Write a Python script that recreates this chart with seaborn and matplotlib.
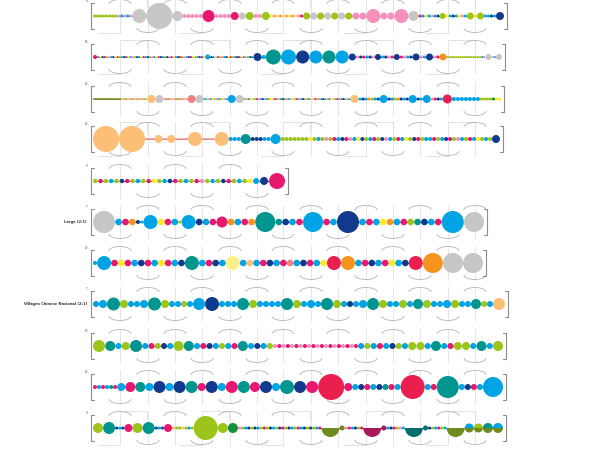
import matplotlib
matplotlib.use("Agg")
import matplotlib.pyplot as plt
from matplotlib.patches import Circle, Wedge, Arc
import seaborn as sns

sns.set_theme(style="white")
plt.rcParams['font.family'] = ['DejaVu Sans']

# colour codes used in the row specs
colors = {
    'g': '#9dc41a', 's': '#c6c6c6', 'p': '#f590bd', 'm': '#e8176f',
    'c': '#00a4e4', 'n': '#123a8c', 't': '#00958f', 'o': '#f7941d',
    'l': '#fdbf76', 'y': '#fde92b', 'r': '#ea1f4e', 'f': '#f27f7f',
    'd': '#12913f', 'v': '#6e8b1e', 'w': '#a6195a', 'k': '#00706e',
    'h': '#fbf08a',
}

# each token: colour letters + radius (one dot per letter), "*n" repeats,
# "a/b r" = top half a, bottom half b ("_" = no top half)
row01 = "g1.5*8 pcpcp1.5 s7 s13 s5 p2*5 m6 p2*4 m4 s3.5 g4 p2*2 g4 ypypypypypm1.5 g3.5 s3.5 g3.5 s3.5 g3.5 s3.5 g3.5 p3.5 p3.5 p7 p3.5 p3.5 p7 s5 mcycpcn1.5 g3 ycncypc1.5 g3.5 y1.5 g3.5 ccnc1.5 n4"
row02 = "m2 cynmgpcnym1 gcnmycpgnc1 ymcngpcymn1 cgnpmycnmg1 pcnmygcnmy1 c2.5 ncymgpcnym1 gcnmycpgnc1 n4 c2 t7.5 c7.5 n6.5 c6.5 t6.5 c6.5 n3.5 pnmcnp1.5 n3 cnpm1.5 n3 mpcn1.5 n3.5 pc1.5 n3.5 pm1.5 o3.5 gggggggggggggggg1 cp1 s3 pc1 s3"
row03 = "v1*14 lpglpglpglpgl1 l4 s4 pfgplpgfpglp1 f4 s4 cgpcygpcglpc1 c4 s4 gpcylgmpcn1 pcgylmgpcn1 gpclygmpcn1 pgcylmpgcn1 gpcylgmpcn1 gpc1 l4 cncogcn1.5 c4 ncgoncn1.5 c4 nc1.5 c4 pmnc1.5 r4.5 c2*7 g1.5*4 d1.5 y1.5*2"
row04 = "l13 l13 ffffff0.8 l4 fff0.8 l4 ffffffff0.8 l7 ffffffff0.8 l7 c2*3 t5 n2*3 c2*2 c5 g2*3 g2*3 gygcgpg2 mcnmpcyn2 gcmgnpcg2 mcygnmgc2 cmgcnmgp2 cgmcy2 gcg2 n4"
row05 = "gmgcgnmgcgmygcnmgcgmpgcgnmgcgy2.2 c3 n4 m8"
row06 = "s11 cmo3.3 n2 c1.5 c7 ymc3.3 g1.5 c7 ncm3.3 m5.5 ocmo3.3 t10 tncm3.3 c10 mc3.3 n11 cmcyocmgtncm3.3 c11 s10"
row07 = "c2 c7 mymcnmcymcn3.3 t7 cmnc3.3 h7 clcmncmfcnmcy3.3 r7 o7 cmncmycn3.3 r7 o10 s10 s10"
row08 = "c3 c4 t6.5 g4 c3 c3 c4 t6.5 g4 c3 c3 g3 c3 c6 n7 c3 c3 c3 t6 g4 c3 c3 c3 c3 t6 g4 c3 c4 c3 t6 g4 c3 n3 c3 c4 t6 g4 c3 c3 g4 c3 t5 g4 c3 c3 c4 g4 c3 c3 t5 g3 c3 l6"
row09 = "g6 t5 c3 g4 t6 c3 m3 g3 n3 c3 g5 t5 c3 m3 n3 c3 g3 c3 m3 t5 c3 n3 c3 g3 pmpmpmpmpmpmpmpmpmpm2 c3 g3 c3 m3 c3 n3 g3 c3 g4 g4 c3 t5 c3 m3 g4 g4 c3 t5 c3 g5"
row10 = "mcmctm2 c4 m5 t5 c4 n6 c4 n6 t6 m4 n6 c4 m6 t6 m5 n6 c4 t7 n6 m6 r13 m4 cnmcntmc3 r12 cm3 t11 cnmc3 c10"
row11 = "g5 t6 ncn1.5 m4 g5 t6 ncn1.5 m4 lgglgcg1.5 g12 g5 d5 pgcngncgmgncgnmgncgmcngngcm1.5 _/v9 v2.5 pmcngm1.5 _/w9 w2.5 cnmgpc1.5 _/k9 k2.5 ngcmgc1.5 _/v9 c/v4.5 g/v4.5 t/v5 c/v5"

rows = [row01, row02, row03, row04, row05, row06, row07, row08, row09, row10, row11]
row_y = [16, 57, 99, 139, 181, 222, 263, 304, 346, 387, 428]
row_end = [504, 502, 501, 500, 285, 484, 483, 505, 503, 503, 503]
row_tags = ["8", "10", "10", "10", "9", "7", "10", "7", "10", "10", "8"]
side_labels = {5: "Large (2:1)", 7: "Villages Chinese Nacional (2:1)"}

row_start = 93
guide_x = [120, 148, 175, 202, 230, 257, 283, 311, 338, 366, 393, 420, 448, 475]
step_rows = [0, 1, 3, 10]


def parse(spec):
    items = []
    for tok in spec.split():
        rep = 1
        if '*' in tok:
            tok, rep = tok.split('*')
            rep = int(rep)
        if '/' in tok:
            top, rest = tok.split('/')
            items += [(top, rest[0], float(rest[1:]))] * rep
        else:
            letters = ''.join(ch for ch in tok if ch.isalpha())
            r = float(tok[len(letters):])
            for _ in range(rep):
                items += [(ch, ch, r) for ch in letters]
    return items


fig = plt.figure(figsize=(6.15, 4.5), dpi=100)
ax = fig.add_axes([0, 0, 1, 1])
ax.set_xlim(0, 615)
ax.set_ylim(450, 0)
ax.set_aspect('equal')
ax.axis('off')

grid_c = '#dcdcdc'
arc_c = '#b3b3b3'

for i, (spec, y, end) in enumerate(zip(rows, row_y, row_end)):
    items = parse(spec)
    total = sum(2 * r for _, _, r in items)
    gap = (end - row_start - total) / (len(items) - 1)
    xs = []
    x = row_start
    for _, _, r in items:
        xs.append(x + r)
        x += 2 * r + gap

    # guide lines, arcs and dashed steps
    for k, gx in enumerate(guide_x):
        if gx > end - 8:
            break
        ax.plot([gx, gx], [y - 17, y + 17], color=grid_c, lw=0.5, zorder=0)
        if (k + i) % 2 == 0:
            ax.add_patch(Arc((gx, y - 12), 22, 9, theta1=180, theta2=360,
                             color=arc_c, lw=0.6, zorder=0))
        else:
            ax.add_patch(Arc((gx, y + 12), 22, 9, theta1=0, theta2=180,
                             color=arc_c, lw=0.6, zorder=0))
        if i in step_rows and k % 3 == 0:
            ax.plot([gx - 22, gx], [y + 17, y + 17], color='#c4c4c4', lw=0.5,
                    ls=(0, (2, 1)), zorder=0)
            ax.plot([gx, gx + 27, gx + 27], [y - 17, y - 17, y - 8], color='#c4c4c4',
                    lw=0.5, ls=(0, (2, 1)), zorder=0)

    # connecting line
    for j in range(len(items) - 1):
        ax.plot([xs[j], xs[j + 1]], [y, y], color=colors[items[j][1]],
                lw=0.7, zorder=1, solid_capstyle='butt')

    # circles
    for (top, bot, r), cx in zip(items, xs):
        if top == bot:
            ax.add_patch(Circle((cx, y), r, facecolor=colors[top], edgecolor='none', zorder=2))
        else:
            if top != '_':
                ax.add_patch(Wedge((cx, y), r, 180, 360, facecolor=colors[top],
                                   edgecolor='none', zorder=2))
            ax.add_patch(Wedge((cx, y), r, 0, 180, facecolor=colors[bot],
                               edgecolor='none', zorder=3))

    # brackets
    bx0 = row_start - 2
    bx1 = end + 3
    ax.plot([bx0 + 3, bx0, bx0, bx0 + 3], [y - 13, y - 13, y + 13, y + 13],
            color='#8c8c8c', lw=0.8, zorder=3)
    ax.plot([bx1 - 3, bx1, bx1, bx1 - 3], [y - 13, y - 13, y + 13, y + 13],
            color='#8c8c8c', lw=0.8, zorder=3)

    ax.text(bx0 - 3, y - 15, row_tags[i], fontsize=2, color='#555555', ha='right', va='center')
    if i in side_labels:
        ax.text(bx0 - 4, y, side_labels[i], fontsize=2.6, color='#333333',
                ha='right', va='center', fontweight='bold')

fig.savefig('out.png', dpi=100, facecolor='white')
